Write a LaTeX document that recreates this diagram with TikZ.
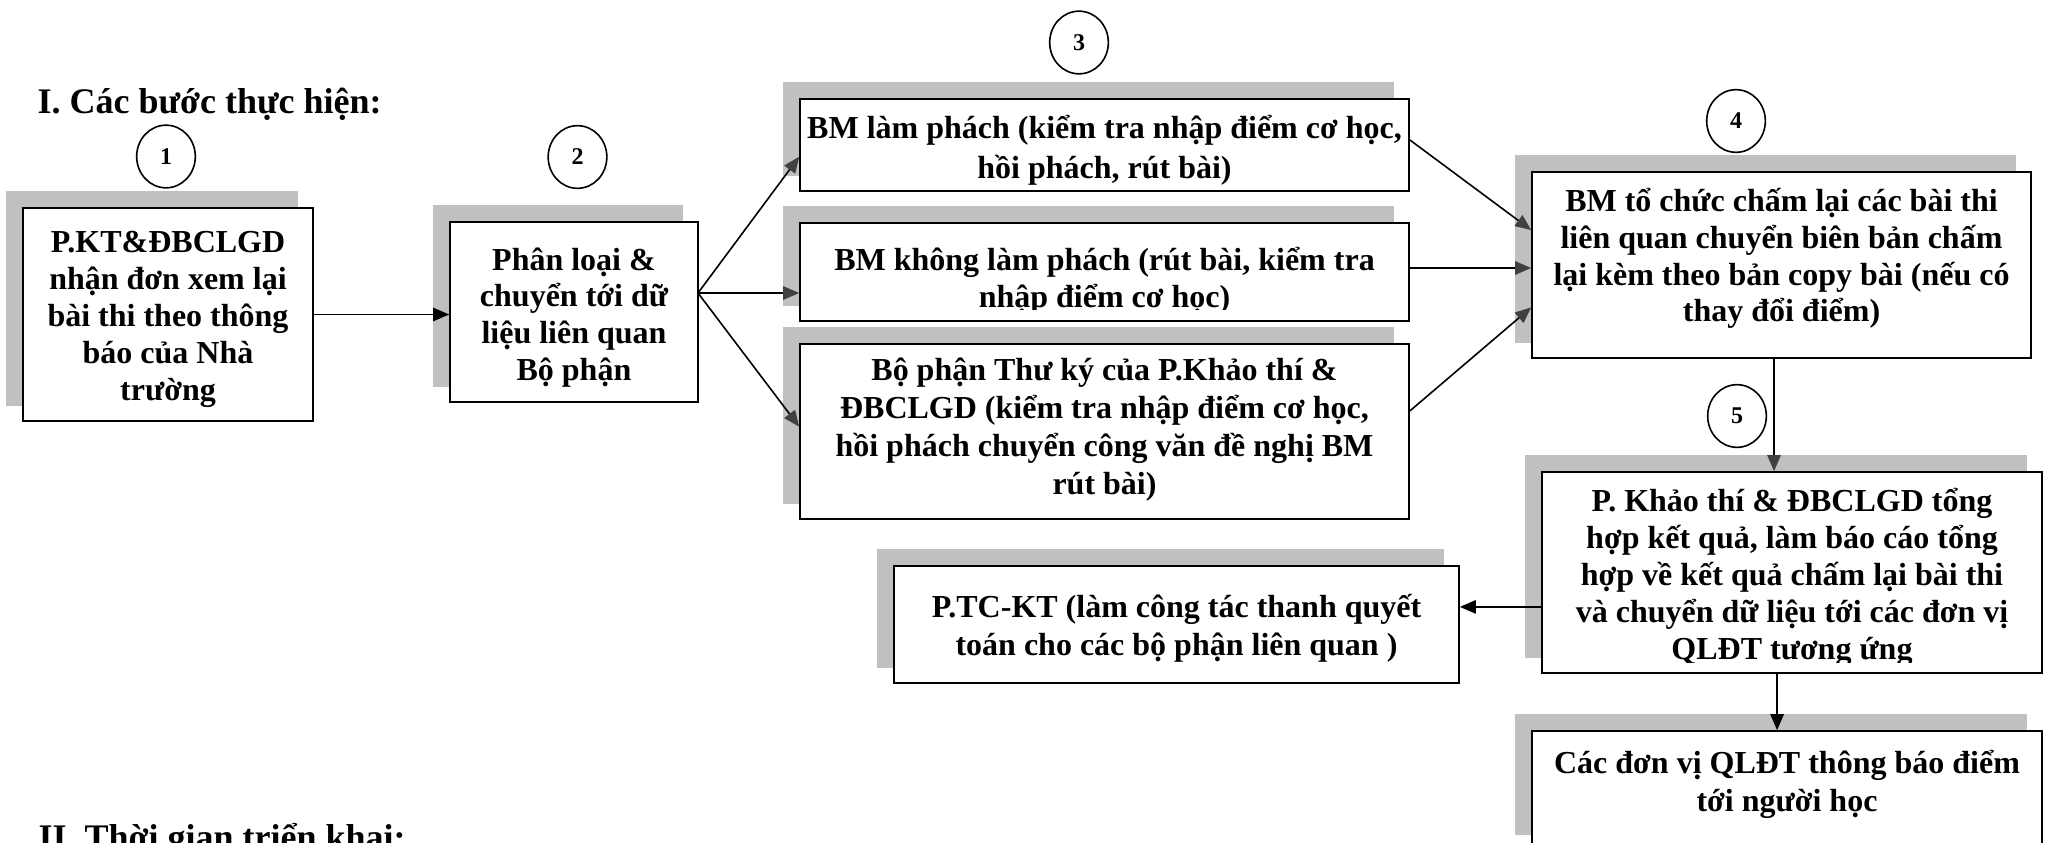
\documentclass[tikz,border=0pt]{standalone}
\usepackage{fontspec}
\setmainfont{Liberation Serif}
\usetikzlibrary{arrows.meta,shapes.geometric,fit,backgrounds}
\definecolor{shadowgray}{HTML}{C0C0C0}
\definecolor{tipgray}{HTML}{404040}
\newcommand\boxlines[2]{{\fontsize{12}{#1}\selectfont\begin{tabular}[t]{@{}c@{}}#2\end{tabular}}}
\newcommand\titlefont{\bfseries\fontsize{13.5}{16}\selectfont}
\begin{document}
\begin{tikzpicture}[x=0.375pt,y=-0.375pt,
  box/.style={draw, line width=0.6pt, fill=white, inner sep=0pt},
  txt/.style={anchor=base, inner sep=0pt, font=\bfseries},
  circ/.style={draw, ellipse, line width=0.6pt, minimum width=22pt, minimum height=23.5pt, inner sep=0pt, font=\bfseries\fontsize{9}{10}\selectfont},
  arr/.style={line width=0.6pt, -{Triangle[length=6pt,width=5pt]}},
  garr/.style={line width=0.6pt, -{Triangle[length=6pt,width=5pt,color=tipgray]}}]
\useasboundingbox (0,0) rectangle (2046,842);

% titles
\node[anchor=base west, inner sep=0pt, font=\titlefont] (title1) at (37,113) {I. Các bước thực hiện:};
\node[anchor=base west, inner sep=0pt, font=\titlefont] (title2) at (38,849) {II. Thời gian triển khai:};

% step circles
\node[circ] (c1) at (166,156.5) {1};
\node[circ] (c2) at (577.5,157) {2};
\node[circ] (c3) at (1079,42.5) {3};
\node[circ] (c4) at (1736,121) {4};
\node[circ] (c5) at (1737,416) {5};

% boxes
\node[box, fit={(23,208) (313,421)}] (b1) {};
\node[box, fit={(450,222) (698,402)}] (b2) {};
\node[box, fit={(800,99) (1409,191)}] (b3a) {};
\node[box, fit={(800,223) (1409,321)}] (b3b) {};
\node[box, fit={(800,344) (1409,519)}] (b3c) {};
\node[box, fit={(1532,172) (2031,358)}] (b4) {};
\node[box, fit={(1542,472) (2042,673)}] (b5) {};
\node[box, fit={(894,566) (1459,683)}] (ptc) {};
\node[box, fit={(1532,731) (2042,850)}] (b6) {};

% shadows
\begin{scope}[on background layer]
\foreach \n in {b1,b2,b3a,b3b,b3c,b4,b5,ptc,b6}
  \fill[shadowgray] ([xshift=-6pt,yshift=6pt]\n.south west) rectangle ([xshift=-6pt,yshift=6pt]\n.north east);
\end{scope}

% box texts
\node[txt] (t1) at (168,252.5) {\boxlines{13.9pt}{P.KT\&ĐBCLGD\\nhận đơn xem lại\\bài thi theo thông\\báo của Nhà\\trường}};
\node[txt] (t2) at (574,270) {\boxlines{13.76pt}{Phân loại \&\\chuyển tới dữ\\liệu liên quan\\Bộ phận}};
\node[txt] (t3a) at (1104.5,138) {\boxlines{15pt}{BM làm phách (kiểm tra nhập điểm cơ học,\\hồi phách, rút bài)}};
\begin{scope}
\clip (b3b.north west) rectangle ([yshift=4.5pt]b3b.south east);
\node[txt] (t3b) at (1104.5,270) {\boxlines{13.9pt}{BM không làm phách (rút bài, kiểm tra\\nhập điểm cơ học)}};
\end{scope}
\node[txt] (t3c) at (1104.5,380) {\boxlines{14.36pt}{Bộ phận Thư ký của P.Khảo thí \&\\ĐBCLGD (kiểm tra nhập điểm cơ học,\\hồi phách chuyển công văn đề nghị BM\\rút bài)}};
\node[txt] (t4) at (1781.5,211.7) {\boxlines{13.76pt}{BM tổ chức chấm lại các bài thi\\liên quan chuyển biên bản chấm\\lại kèm theo bản copy bài (nếu có\\thay đổi điểm)}};
\begin{scope}
\clip (b5.north west) rectangle ([yshift=4.1pt]b5.south east);
\node[txt] (t5) at (1792,511.7) {\boxlines{13.9pt}{P. Khảo thí \& ĐBCLGD tổng\\hợp kết quả, làm báo cáo tổng\\hợp về kết quả chấm lại bài thi\\và chuyển dữ liệu tới các đơn vị\\QLĐT tương ứng}};
\end{scope}
\node[txt] (tptc) at (1176.5,617) {\boxlines{14.25pt}{P.TC-KT (làm công tác thanh quyết\\toán cho các bộ phận liên quan )}};
\node[txt] (t6) at (1787,773.3) {\boxlines{14.4pt}{Các đơn vị QLĐT thông báo điểm\\tới người học}};

% connectors
\coordinate (fan) at (698,293);
\draw[arr] (b1.east) -- (b1.east -| b2.west);
\draw[garr] (fan) -- ([yshift=-4.4pt]b3a.west);
\draw[garr] (fan) -- (fan -| b3b.west);
\draw[garr] (fan) -- ([yshift=1.8pt]b3c.west);
\draw[garr] ([yshift=1.9pt]b3a.east) -- ([yshift=13.1pt]b4.west);
\draw[garr] ([yshift=1.5pt]b3b.east) -- ([yshift=1.5pt]b3b.east -| b4.west);
\draw[garr] ([yshift=7.7pt]b3c.east) -- ([yshift=-15.9pt]b4.west);
\draw[garr] ([xshift=-2.8pt]b4.south) -- ([xshift=-2.8pt]b4.south |- b5.north);
\draw[arr] ([yshift=-12.9pt]b5.west) -- ([yshift=-12.9pt]b5.west -| ptc.east);
\draw[arr] ([xshift=-5.6pt]b5.south) -- ([xshift=-5.6pt]b5.south |- b6.north);
\end{tikzpicture}
\end{document}
